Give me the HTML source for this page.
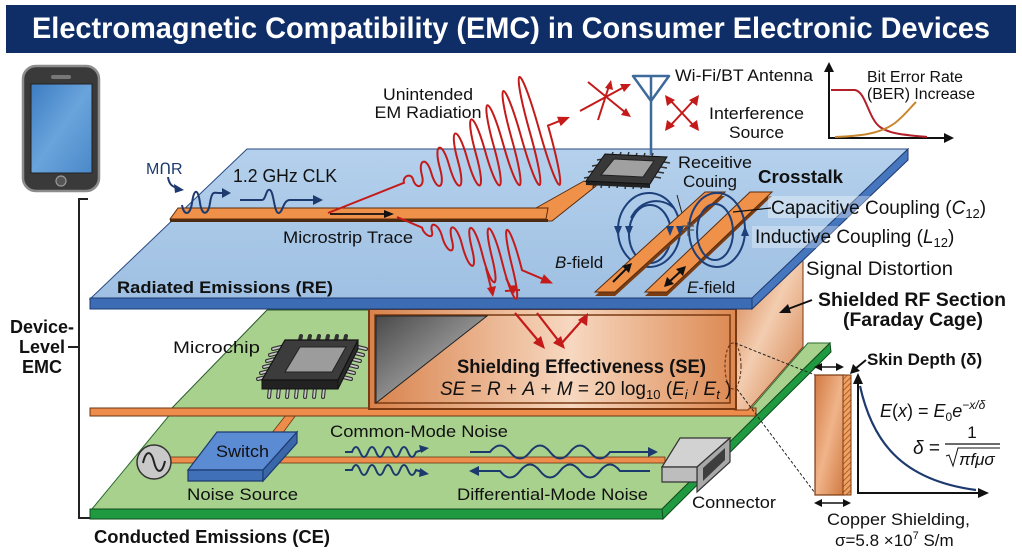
<!DOCTYPE html>
<html><head><meta charset="utf-8">
<style>
html,body{margin:0;padding:0;background:#fff;}
svg{display:block;}
text{font-family:"Liberation Sans",Arial,"DejaVu Sans",sans-serif;fill:#111;}
</style></head>
<body>
<svg width="1022" height="557" viewBox="0 0 1022 557" xmlns="http://www.w3.org/2000/svg">
<defs>
<linearGradient id="blueTop" x1="0" y1="0" x2="0" y2="1"><stop offset="0" stop-color="#b4d0ec"/><stop offset="1" stop-color="#9fc0e3"/></linearGradient>
<linearGradient id="copper" x1="0" y1="0" x2="1" y2="0"><stop offset="0" stop-color="#d8824c"/><stop offset="0.55" stop-color="#f7d8c0"/><stop offset="1" stop-color="#dc8851"/></linearGradient>
<linearGradient id="copperSide" x1="0" y1="0" x2="1" y2="1"><stop offset="0" stop-color="#d47d47"/><stop offset="0.45" stop-color="#f3cdb0"/><stop offset="1" stop-color="#d27c46"/></linearGradient>
<linearGradient id="slab" x1="0" y1="0" x2="1" y2="1"><stop offset="0" stop-color="#d27a42"/><stop offset="0.5" stop-color="#f0b48a"/><stop offset="1" stop-color="#d07840"/></linearGradient>
<linearGradient id="gray" x1="0" y1="0" x2="1" y2="1"><stop offset="0" stop-color="#4a4a4a"/><stop offset="1" stop-color="#cfcfcf"/></linearGradient>
<linearGradient id="screen" x1="0" y1="0" x2="1" y2="1"><stop offset="0" stop-color="#3c7cc2"/><stop offset="0.5" stop-color="#6aa4dc"/><stop offset="1" stop-color="#4a88c8"/></linearGradient>
<pattern id="hatch" width="4" height="4" patternUnits="userSpaceOnUse" patternTransform="rotate(45)"><rect width="4" height="4" fill="#f0a264"/><line x1="0" y1="0" x2="0" y2="4" stroke="#9a4a12" stroke-width="1.5"/></pattern>
</defs>

<!-- Title -->
<rect x="6" y="5" width="1010" height="48" fill="#0f2d66"/>
<text x="511" y="38" text-anchor="middle" font-size="30" font-weight="bold" style="fill:#fff" textLength="958" lengthAdjust="spacingAndGlyphs">Electromagnetic Compatibility (EMC) in Consumer Electronic Devices</text>

<!-- Phone -->
<rect x="23" y="66" width="76" height="125" rx="13" fill="#3a3a3a" stroke="#8c8c8c" stroke-width="2.5"/>
<rect x="31" y="84" width="61" height="89" fill="url(#screen)" stroke="#222" stroke-width="1"/>
<rect x="51" y="75" width="20" height="4" rx="2" fill="#777"/>
<circle cx="61" cy="181" r="5" fill="#555" stroke="#999" stroke-width="1.2"/>

<!-- Bracket -->
<path d="M88,199 L79,199 L79,518 L90,518" fill="none" stroke="#222" stroke-width="2"/>
<path d="M68,347 L79,347" stroke="#222" stroke-width="2"/>
<text x="42" y="333" text-anchor="middle" font-size="18" font-weight="bold">Device-</text>
<text x="42" y="353" text-anchor="middle" font-size="18" font-weight="bold">Level</text>
<text x="42" y="373" text-anchor="middle" font-size="18" font-weight="bold">EMC</text>

<!-- Lower green plane -->
<polygon points="92,509 172,412 748,412 808,343 830,343 662,509" fill="#a9d18e" stroke="#2a6a30" stroke-width="1"/>
<rect x="90" y="509" width="573" height="10" fill="#1f9a40" stroke="#0f4a1c" stroke-width="1"/>
<polygon points="662,509 830,343 831,352 663,519" fill="#1f9a40" stroke="#0f4a1c" stroke-width="1"/>

<!-- lower wires -->
<rect x="170" y="457" width="495" height="6" fill="#ee8c4c" stroke="#6b3510" stroke-width="0.8"/>
<polygon points="271,434 282,434 296,415 286,415" fill="#ee8c4c" stroke="#6b3510" stroke-width="0.8"/>
<!-- source -->
<circle cx="154" cy="462" r="17" fill="#c9c9c9" stroke="#333" stroke-width="1.5"/>
<path d="M143,463 C146,450 151,450 154,462 C157,474 162,474 165,461" fill="none" stroke="#222" stroke-width="2"/>
<!-- switch -->
<polygon points="188,470 217,432 297,432 263,470" fill="#5b8bd2" stroke="#1e3a70" stroke-width="1.2"/>
<polygon points="188,470 263,470 263,481 188,481" fill="#4070b8" stroke="#1e3a70" stroke-width="1.2"/>
<polygon points="263,470 297,432 297,443 263,481" fill="#3a66aa" stroke="#1e3a70" stroke-width="1.2"/>
<text x="216" y="457" font-size="17" textLength="53" lengthAdjust="spacingAndGlyphs">Switch</text>
<text x="187" y="500" font-size="17" textLength="111" lengthAdjust="spacingAndGlyphs">Noise Source</text>

<!-- noise waves -->
<g fill="none" stroke="#1d3a6e" stroke-width="2">
<path d="M345,452 L352,452 q4,-10 8,0 q4,10 8,0 q4,-10 8,0 q4,10 8,0 q4,-10 8,0 q4,10 8,0 q4,-10 8,0 q4,10 8,0 L422,450"/>
<path d="M345,470 L352,470 q4,-10 8,0 q4,10 8,0 q4,-10 8,0 q4,10 8,0 q4,-10 8,0 q4,10 8,0 q4,-10 8,0 q4,10 8,0 L422,472"/>
<path d="M470,452 L490,452 q10,-13 20,0 q10,13 20,0 q10,-13 20,0 q10,13 20,0 q10,-13 20,0 q10,13 20,0 L650,452"/>
<path d="M478,471 L500,471 q10,13 20,0 q10,-13 20,0 q10,13 20,0 q10,-13 20,0 q10,13 20,0 q10,-13 20,0 L650,471"/>
</g>
<g fill="#1d3a6e">
<polygon points="429,448 419,445 421,453"/>
<polygon points="429,474 420,468 419,477"/>
<polygon points="658,452 648,447 648,457"/>
<polygon points="469,471 479,466 479,476"/>
</g>
<text x="330" y="437" font-size="17" textLength="178" lengthAdjust="spacingAndGlyphs">Common-Mode Noise</text>
<text x="457" y="500" font-size="17" textLength="191" lengthAdjust="spacingAndGlyphs">Differential-Mode Noise</text>

<!-- connector -->
<polygon points="662,467 680,438 730,438 697,467" fill="#d2d2d2" stroke="#333" stroke-width="1.2"/>
<polygon points="697,467 730,438 730,462 697,492" fill="#a8a8a8" stroke="#333" stroke-width="1.2"/>
<polygon points="703,468 725,448 725,460 703,481" fill="#3e3e3e"/>
<polygon points="662,467 697,467 697,482 662,482" fill="#bdbdbd" stroke="#333" stroke-width="1.2"/>
<text x="692" y="508" font-size="17" textLength="84" lengthAdjust="spacingAndGlyphs">Connector</text>
<text x="94" y="543" font-size="18" font-weight="bold" textLength="236" lengthAdjust="spacingAndGlyphs">Conducted Emissions (CE)</text>

<!-- Middle green plane -->
<polygon points="267,310 740,310 740,410 170,410" fill="#a9d18e" stroke="#2a5a2a" stroke-width="1"/>
<rect x="90" y="408" width="666" height="8" fill="#ee8c4c" stroke="#6b3510" stroke-width="1"/>
<text x="173" y="353" font-size="17" textLength="87" lengthAdjust="spacingAndGlyphs">Microchip</text>

<!-- Microchip -->
<g stroke-linecap="round">
<g stroke="#333" stroke-width="4">
<path d="M270,388 l-1,9 M279,388 l-1,9 M288,388 l-1,9 M297,388 l-1,9 M306,388 l-1,9 M315,388 l-1,9 M324,388 l-1,9"/>
<path d="M358,347 l8,2 M355,353 l8,2 M352,359 l8,2 M349,365 l8,2 M346,371 l8,2 M343,377 l8,2"/>
<path d="M281,347 l-8,2 M278,353 l-8,2 M275,359 l-8,2 M272,365 l-8,2 M269,371 l-8,2 M266,377 l-8,2"/>
<path d="M300,340 l1,-4 M309,340 l1,-4 M318,340 l1,-4 M327,340 l1,-4 M336,340 l1,-4 M345,340 l1,-4"/>
</g>
<g stroke="#c8c8c8" stroke-width="1.8">
<path d="M270,388 l-1,9 M279,388 l-1,9 M288,388 l-1,9 M297,388 l-1,9 M306,388 l-1,9 M315,388 l-1,9 M324,388 l-1,9"/>
<path d="M358,347 l8,2 M355,353 l8,2 M352,359 l8,2 M349,365 l8,2 M346,371 l8,2 M343,377 l8,2"/>
<path d="M281,347 l-8,2 M278,353 l-8,2 M275,359 l-8,2 M272,365 l-8,2 M269,371 l-8,2 M266,377 l-8,2"/>
</g>
</g>
<polygon points="262,380 338,380 338,389 262,389" fill="#222" stroke="#111"/>
<polygon points="338,380 358,340 358,349 338,389" fill="#2a2a2a" stroke="#111"/>
<polygon points="285,340 358,340 338,380 262,380" fill="#3c3c3c" stroke="#111" stroke-width="1.2"/>
<polygon points="300,347 346,347 332,372 285,372" fill="#9c9c9c" stroke="#222" stroke-width="1"/>

<!-- Copper box -->
<polygon points="735,309 752,309 803,260 803,347 748,410 735,410" fill="url(#copperSide)" stroke="#7a3a12" stroke-width="1"/>
<rect x="369" y="309" width="367" height="100" fill="url(#copper)" stroke="#7a3a12" stroke-width="2"/>
<rect x="375" y="315" width="355" height="88" fill="none" stroke="#7a3a12" stroke-width="1.5"/>
<polygon points="376,316 487,316 376,403" fill="url(#gray)" stroke="#222" stroke-width="1"/>
<text x="457" y="373" font-size="19" font-weight="bold" textLength="249" lengthAdjust="spacingAndGlyphs">Shielding Effectiveness (SE)</text>
<text x="440" y="395" font-size="19"><tspan font-style="italic">SE</tspan> = <tspan font-style="italic">R</tspan> + <tspan font-style="italic">A</tspan> + <tspan font-style="italic">M</tspan> = 20 log<tspan font-size="13" dy="4">10</tspan><tspan dy="-4"> (</tspan><tspan font-style="italic">E</tspan><tspan font-size="13" dy="4" font-style="italic">i</tspan><tspan dy="-4"> / </tspan><tspan font-style="italic">E</tspan><tspan font-size="13" dy="4" font-style="italic">t</tspan><tspan dy="-4"> )</tspan></text>
<!-- ellipse + zoom lines -->
<ellipse cx="733" cy="366" rx="8" ry="23" fill="none" stroke="#5a2a10" stroke-width="1" stroke-dasharray="3,2"/>
<path d="M735,343 L815,375 M737,389 L815,493" stroke="#222" stroke-width="1" stroke-dasharray="3,2" fill="none"/>

<!-- red arrows in box -->
<g stroke="#c41a1a" stroke-width="2.2" fill="none">
<path d="M515,313 L541,344"/>
<path d="M537,313 L561,344 L584,318"/>
</g>
<g fill="#c41a1a">
<polygon points="545,349 533,343 541,336"/>
<polygon points="565,349 553,343 561,336"/>
<polygon points="588,313 587,326 578,320"/>
</g>

<!-- Blue top plane -->
<polygon points="247,149 908,149 752,299 90,299" fill="url(#blueTop)" stroke="#2a4a80" stroke-width="1"/>
<rect x="90" y="298" width="662" height="11" fill="#3c6cb4" stroke="#1e3a70" stroke-width="1"/>
<polygon points="752,298 908,149 908,160 752,309" fill="#4676bd" stroke="#1e3a70" stroke-width="1"/>
<text x="117" y="293" font-size="17" font-weight="bold" textLength="216" lengthAdjust="spacingAndGlyphs">Radiated Emissions (RE)</text>

<!-- Microstrip trace -->
<polygon points="536,208 584,181 596,186 552,221 536,221" fill="#f0914a" stroke="#5a2c0c" stroke-width="1"/>
<rect x="170" y="219" width="378" height="3" fill="#4a2a10"/>
<polygon points="170,219 178,208 548,208 546,219" fill="#f0914a" stroke="#5a2c0c" stroke-width="1"/>
<path d="M330,214 L386,214" stroke="#111" stroke-width="1.8"/>
<polygon points="394,214 384,210 384,218" fill="#111"/>
<text x="283" y="243" font-size="17" textLength="130" lengthAdjust="spacingAndGlyphs">Microstrip Trace</text>

<!-- CLK waves -->
<text x="146" y="174" font-size="16" style="fill:#1d3a6e">MՈR</text>
<g fill="none" stroke="#1d3a6e" stroke-width="2">
<path d="M168,177 C169,184 172,187 178,188"/>
<path d="M182,205 C184,216 190,216 192,203 C194,188 198,188 200,203 C202,216 208,216 210,203 C212,190 214,193 220,193 L225,193"/>
<path d="M240,200 L262,200 C266,200 266,188 270,190 C274,192 274,214 279,213 C283,212 283,200 290,200 L316,200"/>
</g>
<g fill="#1d3a6e">
<polygon points="184,190 174,184 175,193"/>
<polygon points="231,193 222,188 222,198"/>
<polygon points="323,200 313,195 313,205"/>
</g>
<text x="233" y="182" font-size="18" textLength="104" lengthAdjust="spacingAndGlyphs">1.2 GHz CLK</text>

<!-- Red radiation waves -->
<g fill="none" stroke="#c41a1a" stroke-width="2">
<path transform="matrix(1,-0.3975,0.28,1,328,213)" vector-effect="non-scaling-stroke" d="M0,0 L76,0 c0,-6.7 9,-6.7 9,0 c0,11.3 9,11.3 9,0 c0,-16 9,-16 9,0 c0,20.7 9,20.7 9,0 c0,-25.3 9,-25.3 9,0 c0,30 9,30 9,0 c0,-34.7 9,-34.7 9,0 c0,39.3 9,39.3 9,0 c0,-44 9,-44 9,0 c0,48.7 9,48.7 9,0 c0,-53.3 9,-53.3 9,0 c0,58 9,58 9,0 c0,-62.7 9,-62.7 9,0 c0,67.3 9,67.3 9,0 c0,-72 9,-72 9,0 c0,76.7 9,76.7 9,0 L232,0"/>
<path transform="matrix(1,0.425,0.25,1,397,217)" vector-effect="non-scaling-stroke" d="M0,0 L25,0 c0,8 10,8 10,0 c0,-12 10,-12 10,0 c0,16 10,16 10,0 c0,-20 10,-20 10,0 c0,25.3 10,25.3 10,0 c0,-30.7 10,-30.7 10,0 c0,36 10,36 10,0 c0,-41.3 10,-41.3 10,0 c0,46.7 10,46.7 10,0 c0,-50.7 10,-50.7 10,0 L148,0"/>
<path d="M486,268 L492,292"/>
<path d="M506,278 L512,290 M505,291 L520,290"/>
</g>
<g fill="#c41a1a">
<polygon points="570,117 560.7,126.1 557,116.8"/>
<polygon points="553,283.5 540,283.4 543.9,274.2"/>
<polygon points="493,297 487,288 496,286"/>
<polygon points="514,294 508,286 517,285"/>
</g>
<text x="428" y="100" text-anchor="middle" font-size="17" textLength="90" lengthAdjust="spacingAndGlyphs">Unintended</text>
<text x="428" y="118" text-anchor="middle" font-size="17" textLength="107" lengthAdjust="spacingAndGlyphs">EM Radiation</text>

<!-- red arrow clusters -->
<g stroke="#c41a1a" stroke-width="2" fill="none">
<path d="M580,111 L626,86 M588,82 L626,113 M598,120 L609,86"/>
<path d="M670,100 L694,126 M694,100 L670,126"/>
</g>
<g fill="#c41a1a">
<polygon points="631,84 620,84 624,92"/>
<polygon points="631,117 621,115 626,108"/>
<polygon points="611,80 605,88 613,90"/>
<polygon points="665,95 667,106 675,100"/>
<polygon points="699,95 689,100 697,106"/>
<polygon points="665,131 667,120 675,126"/>
<polygon points="699,131 689,126 697,120"/>
</g>

<!-- Antenna -->
<g stroke="#3d6a9a" stroke-width="2.5" fill="none" stroke-linejoin="round">
<path d="M633,76 L669,76 L651,101 Z"/>
<path d="M651,76 L651,155"/>
</g>
<text x="675" y="81" font-size="17" textLength="138" lengthAdjust="spacingAndGlyphs">Wi-Fi/BT Antenna</text>
<text x="709" y="119" font-size="17" textLength="95" lengthAdjust="spacingAndGlyphs">Interference</text>
<text x="729" y="138" font-size="17" textLength="55" lengthAdjust="spacingAndGlyphs">Source</text>

<!-- BER graph -->
<g stroke="#111" stroke-width="2" fill="none">
<path d="M829,70 L829,138 L946,138"/>
</g>
<polygon points="829,62 824,72 834,72" fill="#111"/>
<polygon points="954,138 944,133 944,143" fill="#111"/>
<path d="M831,90 L855,90 C866,92 868,118 880,127 C890,134 905,135 927,137" fill="none" stroke="#b3202a" stroke-width="2"/>
<path d="M835,137 C860,136 880,134 895,123 C905,115 910,108 916,102" fill="none" stroke="#c8862e" stroke-width="2"/>
<text x="867" y="82" font-size="15.5" textLength="96" lengthAdjust="spacingAndGlyphs">Bit Error Rate</text>
<text x="867" y="99" font-size="15.5" textLength="108" lengthAdjust="spacingAndGlyphs">(BER) Increase</text>

<!-- chip top -->
<g stroke="#333" stroke-width="1.5">
<path d="M594,183 l-1,5 M602,183 l-1,5 M610,183 l-1,5 M618,183 l-1,5 M626,184 l-1,5 M634,184 l-1,5 M642,184 l-1,5"/>
<path d="M664,162 l6,1 M661,167 l6,1 M658,172 l6,1 M655,177 l6,1"/>
<path d="M603,159 l-6,1 M598,165 l-6,1 M594,171 l-6,1 M590,177 l-6,1"/>
<path d="M612,155 l1,-3 M620,155 l1,-3 M628,155 l1,-3 M636,156 l1,-3 M644,156 l1,-3 M652,156 l1,-3"/>
</g>
<polygon points="586,180 650,183 650,188 586,185" fill="#222"/>
<polygon points="605,154 667,157 650,184 586,181" fill="#383838" stroke="#111" stroke-width="1"/>
<polygon points="614,159 654,161 643,177 601,175" fill="#a0a0a0" stroke="#222" stroke-width="1"/>

<!-- crosstalk -->
<text x="678" y="168" font-size="17" textLength="74" lengthAdjust="spacingAndGlyphs">Receitive</text>
<text x="683" y="187" font-size="17" textLength="54" lengthAdjust="spacingAndGlyphs">Couing</text>
<path d="M677,195 L686,228" stroke="#222" stroke-width="1" fill="none"/>
<text x="758" y="183" font-size="18" font-weight="bold" textLength="85" lengthAdjust="spacingAndGlyphs">Crosstalk</text>
<g fill="none" stroke="#1d3f7a" stroke-width="2">
<ellipse cx="649" cy="230" rx="31" ry="37"/>
<ellipse cx="650" cy="234" rx="21" ry="29"/>
</g>
<polygon points="595,296 615,296 725,196 705,196" fill="#7a3c12"/>
<polygon points="595,292 615,292 725,192 705,192" fill="#f0914a" stroke="#5a2c0c" stroke-width="1"/>
<polygon points="645,296 667,296 772,196 750,196" fill="#7a3c12"/>
<polygon points="645,292 667,292 772,192 750,192" fill="#f0914a" stroke="#5a2c0c" stroke-width="1"/>
<g fill="none" stroke="#1d3f7a" stroke-width="2">
<ellipse cx="717" cy="230" rx="28" ry="37"/>
<ellipse cx="715" cy="232" rx="18" ry="28"/>
<path d="M631,218 C640,200 660,196 674,208"/>
</g>
<g fill="#1d3f7a">
<polygon points="618,236 614,226 622,226"/>
<polygon points="629,236 625,226 633,226"/>
<polygon points="670,236 666,226 674,226"/>
<polygon points="680,236 676,226 684,226"/>
<polygon points="745,226 741,236 749,236"/>
</g>
<g stroke="#555" stroke-width="1.2"><path d="M682,226 L694,226 M682,230 L694,230 M688,222 L688,226 M688,230 L688,236"/></g>
<path d="M613,282 L627,268" stroke="#111" stroke-width="2"/>
<polygon points="632,263 622,266 629,273" fill="#111"/>
<path d="M668,283 L682,270" stroke="#111" stroke-width="2"/>
<polygon points="686,266 676,269 683,276" fill="#111"/>
<polygon points="664,287 667,277 674,284" fill="#111"/>

<rect x="768" y="196" width="228" height="22" fill="#fff" opacity="0.35"/>
<rect x="752" y="226" width="212" height="22" fill="#fff" opacity="0.3"/>
<path d="M733,212 L771,208" stroke="#111" stroke-width="1.2"/>
<text x="771" y="214" font-size="19">Capacitive Coupling (<tspan font-style="italic">C</tspan><tspan font-size="13" dy="4">12</tspan><tspan dy="-4">)</tspan></text>
<text x="755" y="243" font-size="19">Inductive Coupling (<tspan font-style="italic">L</tspan><tspan font-size="13" dy="4">12</tspan><tspan dy="-4">)</tspan></text>
<text x="806" y="275" font-size="19" textLength="147" lengthAdjust="spacingAndGlyphs">Signal Distortion</text>
<text x="555" y="268" font-size="17"><tspan font-style="italic">B</tspan>-field</text>
<text x="687" y="293" font-size="17"><tspan font-style="italic">E</tspan>-field</text>

<!-- Shielded RF label -->
<path d="M812,300 L788,309" stroke="#111" stroke-width="2"/>
<polygon points="779,313 788,304 791,313" fill="#111"/>
<text x="818" y="306" font-size="19" font-weight="bold" textLength="188" lengthAdjust="spacingAndGlyphs">Shielded RF Section</text>
<text x="843" y="326" font-size="19" font-weight="bold" textLength="140" lengthAdjust="spacingAndGlyphs">(Faraday Cage)</text>

<!-- Inset: skin depth -->
<rect x="815" y="375" width="29" height="120" fill="url(#slab)" stroke="#7a3a12" stroke-width="1.2"/>
<rect x="843" y="375" width="8" height="120" fill="url(#hatch)" stroke="#7a3a12" stroke-width="1"/>
<g stroke="#111" stroke-width="1.5"><path d="M820,367 L838,367 M820,503 L845,503"/></g>
<g fill="#111">
<polygon points="814,367 822,363 822,371"/><polygon points="844,367 836,363 836,371"/>
<polygon points="814,503 822,499 822,507"/><polygon points="851,503 843,499 843,507"/>
</g>
<path d="M866,360 L855,369" stroke="#111" stroke-width="2"/>
<polygon points="850,374 853,364 860,371" fill="#111"/>
<text x="867" y="365" font-size="17" font-weight="bold">Skin Depth (δ)</text>
<path d="M858,382 L858,493 L980,493" fill="none" stroke="#111" stroke-width="2"/>
<polygon points="858,373 853,384 863,384" fill="#111"/>
<polygon points="989,493 978,488 978,498" fill="#111"/>
<path d="M860,386 C872,440 900,480 976,490" fill="none" stroke="#1d3a6e" stroke-width="2.2"/>
<text x="880" y="417" font-size="18"><tspan font-style="italic">E</tspan>(<tspan font-style="italic">x</tspan>) = <tspan font-style="italic">E</tspan><tspan font-size="12" dy="4">0</tspan><tspan font-style="italic" dy="-4">e</tspan><tspan font-size="12" dy="-8" font-style="italic">−x/δ</tspan></text>
<text x="913" y="454" font-size="19"><tspan font-style="italic">δ</tspan> =</text>
<text x="972" y="438" text-anchor="middle" font-size="17">1</text>
<path d="M945,444 L1000,444" stroke="#111" stroke-width="1.2"/>
<path d="M946,456 L949,455 L953,466 L958,448 L1000,448" fill="none" stroke="#111" stroke-width="1"/>
<text x="959" y="465" font-size="17" font-style="italic">πfμσ</text>
<text x="827" y="525" font-size="17" textLength="143" lengthAdjust="spacingAndGlyphs">Copper Shielding,</text>
<text x="835" y="546" font-size="17">σ=5.8 ×10<tspan font-size="11" dy="-7">7</tspan><tspan dy="7"> S/m</tspan></text>
</svg>
</body></html>
